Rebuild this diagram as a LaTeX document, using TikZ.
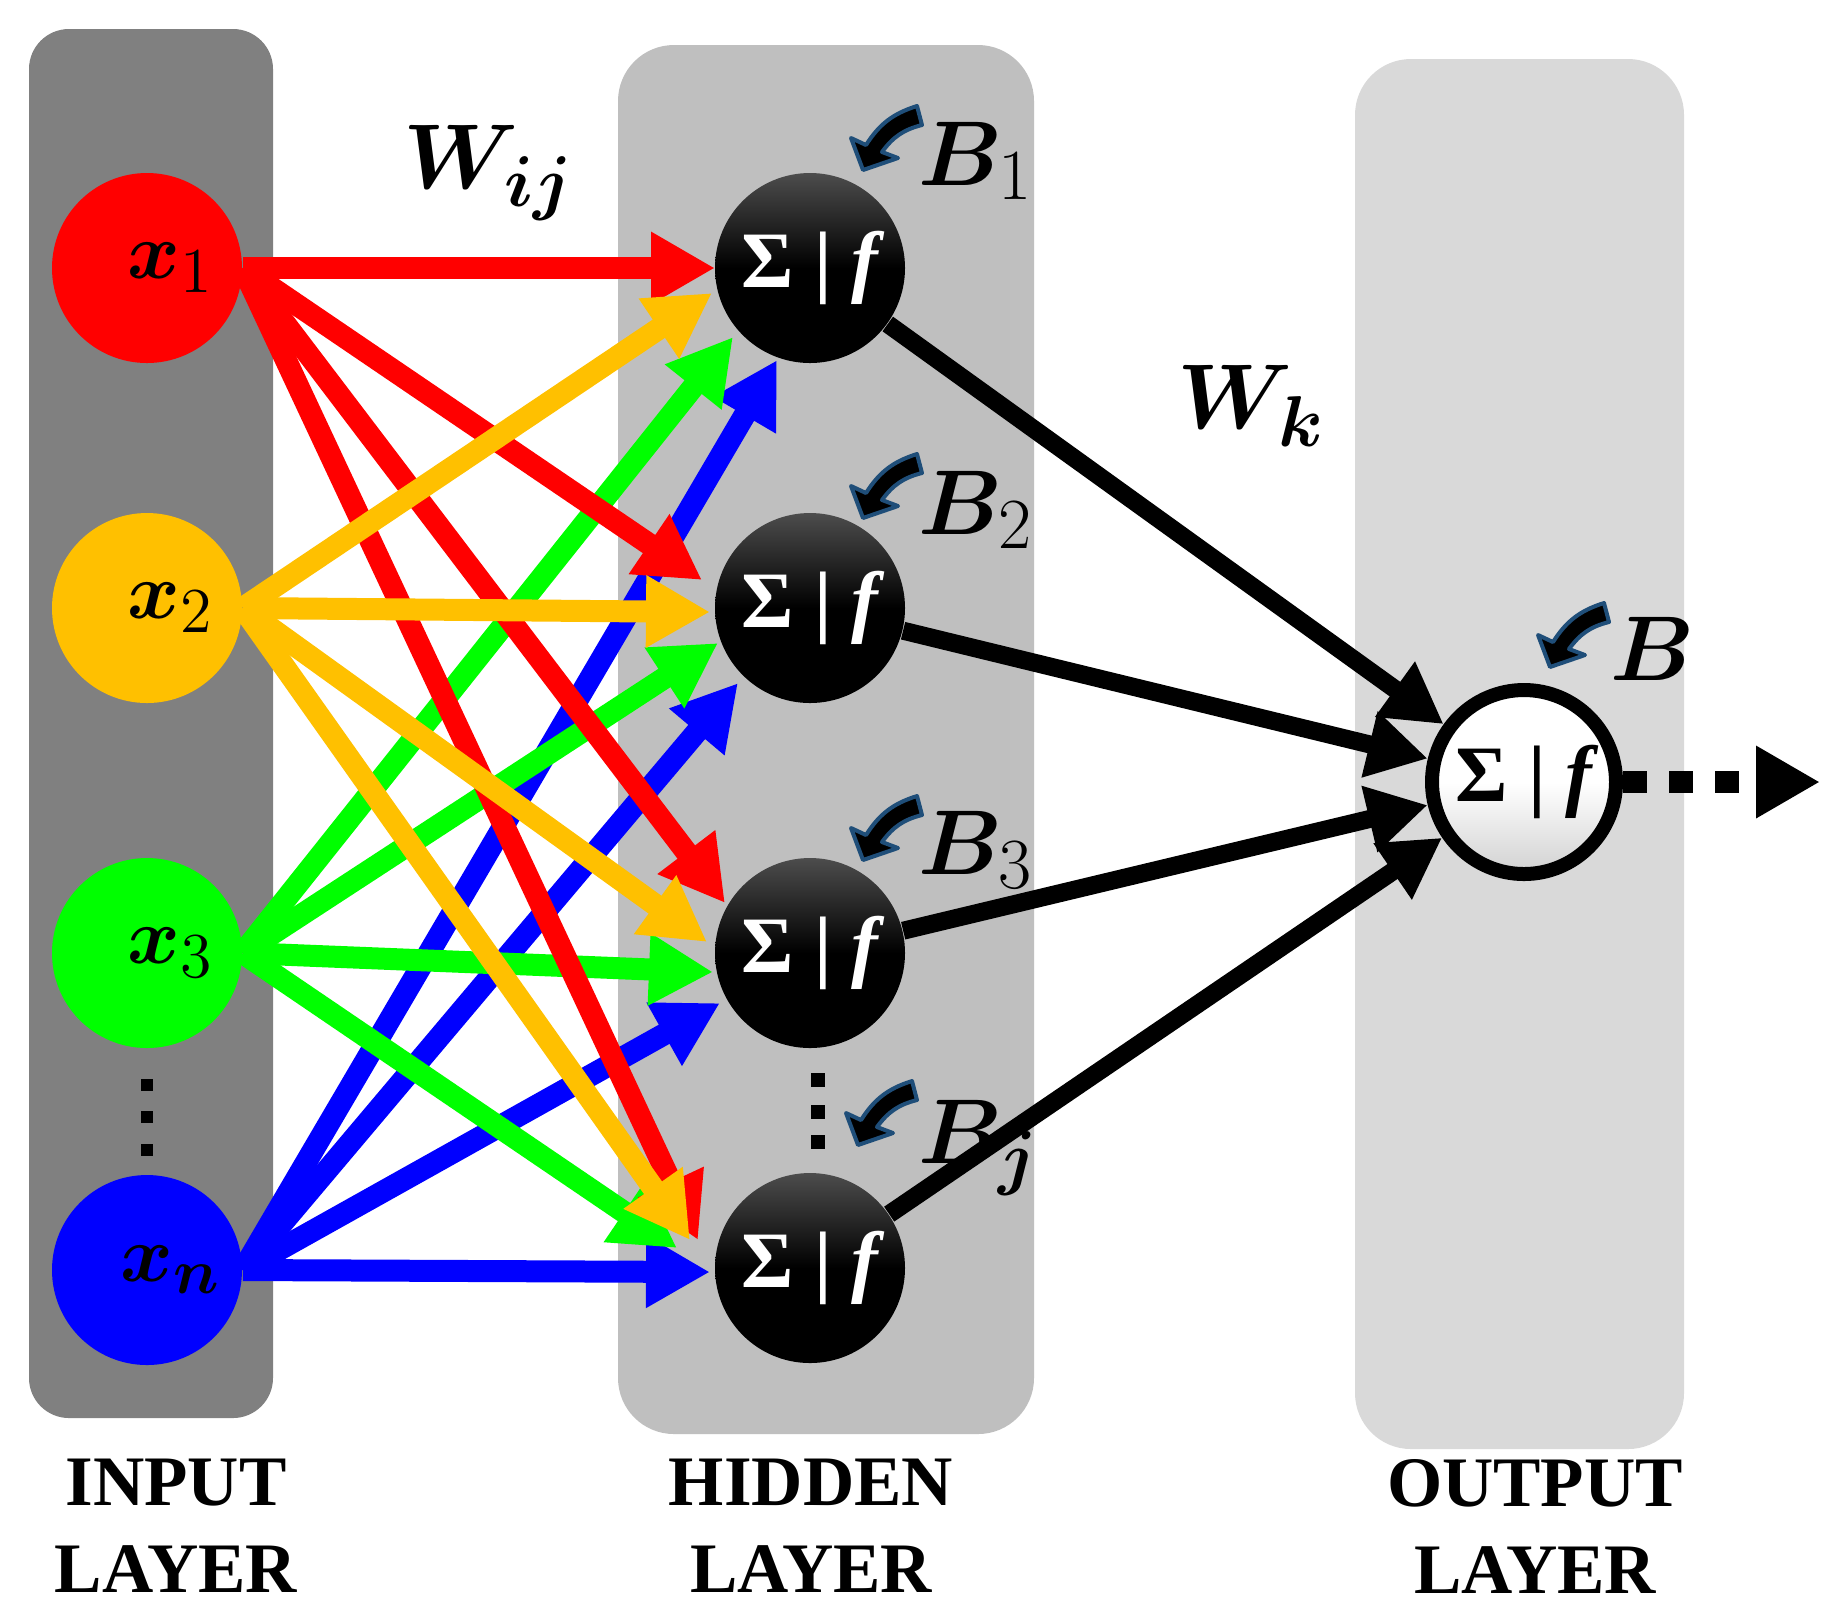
\RequirePackage{fix-cm}
\documentclass[tikz,border=0pt]{standalone}
\usepackage[no-math]{fontspec}
\setmainfont{Liberation Serif}
\usepackage{bm}
\usetikzlibrary{arrows.meta}
\definecolor{inpanel}{gray}{0.5}
\definecolor{hidpanel}{gray}{0.75}
\definecolor{outpanel}{gray}{0.85}
\definecolor{nred}{RGB}{255,0,0}
\definecolor{ngold}{RGB}{255,192,0}
\definecolor{ngreen}{RGB}{0,255,0}
\definecolor{nblue}{RGB}{0,0,255}
\definecolor{biasedge}{RGB}{31,78,121}
\DeclareMathSizes{20}{20}{16}{12}
\DeclareMathSizes{23}{23}{18}{14}
\newcommand{\sumf}{{\bfseries Σ}\hspace{5pt}{\bfseries|}\hspace{5pt}{\bfseries\itshape f}}
\pgfdeclarelayer{panels}
\pgfdeclarelayer{links}
\pgfsetlayers{panels,links,main}
\tikzset{
  biasarrow/.pic={
    \filldraw[fill=black,draw=biasedge,line width=1pt,line join=round]
      (0,0) -- (-12,-32) -- (3,-25) to[bend left=20] (54,-64)
      -- (59,-45) to[bend right=20] (19,-18) -- (35,-12) -- cycle;
  }
}

\begin{document}
\begin{tikzpicture}[x=0.25pt,y=-0.25pt,
  ball/.style={circle,minimum size=47.5pt,inner sep=0pt},
  inlabel/.style={font=\fontsize{20}{24}\selectfont},
  neuron/.style={circle,minimum size=47.5pt,inner sep=0pt,
    top color=black!70,bottom color=black,middle color=black,
    text=white,font=\fontsize{20}{24}\selectfont},
  outneuron/.style={circle,minimum size=46pt,inner sep=0pt,draw=black,
    line width=3.5pt,top color=white,bottom color=black!18,middle color=white,
    font=\fontsize{20}{24}\selectfont},
  syn/.style={line width=5.5pt,-{Triangle[length=16pt,width=17pt]}},
  wgt/.style={line width=4.5pt,-{Triangle[length=15pt,width=16pt]}},
  outflow/.style={line width=5.5pt,dash pattern=on 6pt off 5.5pt,
    -{Triangle[length=16pt,width=17pt]}},
  biaslabel/.style={anchor=base west,inner sep=0pt,font=\fontsize{23}{26}\selectfont},
  layerlabel/.style={align=center,inner sep=0pt,
    font=\bfseries\fontsize{17.75}{21.75}\selectfont}]
  \useasboundingbox (0,0) rectangle (1840,1621);

  \begin{pgfonlayer}{panels}
    \fill[white] (0,0) rectangle (1840,1621);
    \fill[inpanel,rounded corners=10pt] (29,29) rectangle (273,1418);
    \fill[hidpanel,rounded corners=14pt] (618,45) rectangle (1034,1434);
    \fill[outpanel,rounded corners=14pt] (1355,59) rectangle (1684,1449);
  \end{pgfonlayer}

  \node[ball,fill=nred,label={[inlabel,xshift=6pt]center:$\bm{x}_1$}] (x1) at (147,268) {};
  \node[ball,fill=ngold,label={[inlabel,xshift=6pt]center:$\bm{x}_2$}] (x2) at (147,608) {};
  \node[ball,fill=ngreen,label={[inlabel,xshift=6pt]center:$\bm{x}_3$}] (x3) at (147,953) {};
  \node[ball,fill=nblue,label={[inlabel,xshift=6pt]center:$\bm{x}_{\bm{n}}$}] (xn) at (147,1270) {};

  \foreach \n/\y in {h1/268,h2/608,h3/953,h4/1268}
    \node[neuron] (\n) at (810,\y) {\sumf};

  \node[outneuron] (out) at (1524,782) {\sumf};
  \coordinate (yend) at (1820,782);

  \begin{pgfonlayer}{links}
    \foreach \i/\c/\j/\dx/\dy in {
      xn/nblue/h1/-33/92, xn/nblue/h2/-72/75, xn/nblue/h3/-90/50, xn/nblue/h4/-100/4,
      x3/ngreen/h1/-77/69, x3/ngreen/h2/-92/35, x3/ngreen/h3/-97/19, x3/ngreen/h4/-133/-20,
      x1/nred/h1/-95/0, x1/nred/h2/-108/-28, x1/nred/h3/-85/-50, x1/nred/h4/-112/-28,
      x2/ngold/h1/-98/25, x2/ngold/h2/-100/4, x2/ngold/h3/-103/-11, x2/ngold/h4/-120/-28}
      \draw[syn,\c] (\i.east) -- ([shift={(\dx,\dy)}]\j.center);
    \foreach \j in {h1,h2,h3,h4}
      \draw[wgt] (\j) -- (out);
  \end{pgfonlayer}
  \draw[outflow] (out) -- (yend);

  \foreach \y in {1085,1117,1150}
    \fill (141,\y-6) rectangle (153,\y+6);
  \foreach \y in {1080,1112,1142}
    \fill (811,\y-7) rectangle (825,\y+7);

  \foreach \x/\y in {863/170,863/518,863/860,858/1145,1550/667}
    \pic at (\x,\y) {biasarrow};

  \node[biaslabel] (b1) at (918,185) {$\bm{B}_1$};
  \node[biaslabel] (b2) at (918,534) {$\bm{B}_2$};
  \node[biaslabel] (b3) at (918,874) {$\bm{B}_3$};
  \node[biaslabel] (bj) at (918,1163) {$\bm{B}_{\bm{j}}$};
  \node[biaslabel] (bo) at (1610,680) {$\bm{B}$};

  \node[biaslabel] (wij) at (403,188) {$\bm{W}_{\bm{ij}}$};
  \node[biaslabel] (wk) at (1177,428) {$\bm{W}_{\bm{k}}$};

  \node[layerlabel] (inlab) at (176,1526) {INPUT\\LAYER};
  \node[layerlabel] (hidlab) at (811,1526) {HIDDEN\\LAYER};
  \node[layerlabel] (outlab) at (1535,1526) {OUTPUT\\LAYER};
\end{tikzpicture}
\end{document}
